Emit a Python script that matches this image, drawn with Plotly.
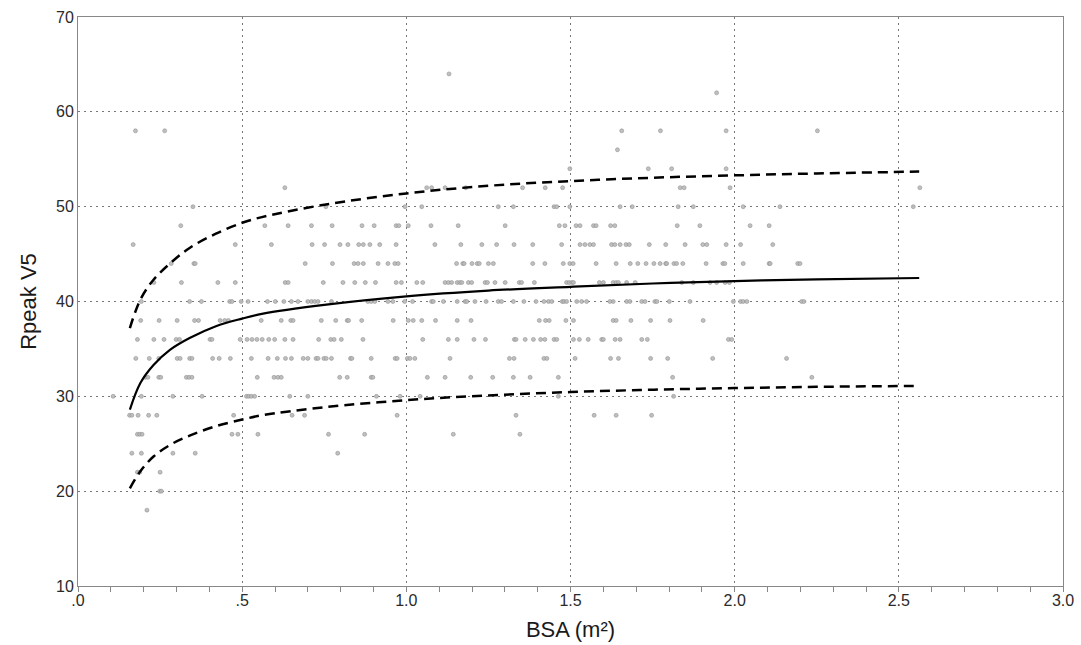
import plotly.graph_objects as go

# ---- scatter data: BSA values per Rpeak V5 level ----
r64 = [1.13]
r62 = [1.945]
r58 = [0.175, 0.264, 1.656, 1.774, 1.974, 2.252]
r56 = [1.643]
r54 = [1.498, 1.737, 1.808, 1.974]
r52 = [0.63, 1.062, 1.077, 1.118, 1.181, 1.354, 1.423, 1.476, 1.834, 1.846, 1.986, 2.564]
r50 = [0.35, 0.755, 0.996, 1.047, 1.28, 1.326, 1.45, 1.458, 1.498, 1.651, 1.688, 1.828,
       1.874, 2.026, 2.138, 2.544]
r48 = [0.313, 0.569, 0.64, 0.711, 0.774, 0.865, 0.902, 0.969, 0.977, 1.006, 1.075, 1.158,
       1.301, 1.466, 1.483, 1.517, 1.529, 1.570, 1.578, 1.622, 1.635, 1.825, 1.894, 2.047, 2.105]
r46 = [0.168, 0.479, 0.589, 0.713, 0.751, 0.798, 0.822, 0.855, 0.869, 0.889, 0.919, 0.969,
       1.087, 1.166, 1.230, 1.275, 1.328, 1.385, 1.473, 1.529, 1.544, 1.559, 1.570, 1.625,
       1.635, 1.651, 1.669, 1.679, 1.740, 1.790, 1.849, 1.903, 1.915, 1.974, 2.018, 2.116]
r44 = [0.284, 0.353, 0.357, 0.692, 0.775, 0.841, 0.853, 0.869, 0.914, 0.944, 0.965, 0.975,
       1.153, 1.172, 1.176, 1.2, 1.216, 1.222, 1.25, 1.265, 1.385, 1.422, 1.478, 1.498, 1.508,
       1.578, 1.639, 1.682, 1.705, 1.73, 1.754, 1.773, 1.790, 1.793, 1.815, 1.823, 1.842,
       1.913, 1.964, 1.970, 2.026, 2.105, 2.108, 2.192, 2.199]
r42 = [0.231, 0.315, 0.426, 0.479, 0.631, 0.640, 0.747, 0.807, 0.843, 0.875, 0.906, 0.969,
       0.985, 1.032, 1.050, 1.118, 1.128, 1.138, 1.155, 1.163, 1.169, 1.189, 1.199, 1.240,
       1.247, 1.270, 1.301, 1.344, 1.351, 1.390, 1.488, 1.496, 1.504, 1.509, 1.588, 1.600,
       1.630, 1.639, 1.646, 1.671, 1.697, 1.839, 1.874, 1.925, 1.945, 1.971, 1.984]
r40 = [0.193, 0.340, 0.376, 0.462, 0.469, 0.497, 0.518, 0.577, 0.601, 0.627, 0.650, 0.670,
       0.700, 0.711, 0.721, 0.731, 0.772, 0.883, 0.893, 0.904, 0.944, 0.959, 0.995, 1.019,
       1.077, 1.082, 1.113, 1.155, 1.179, 1.184, 1.209, 1.243, 1.280, 1.290, 1.326, 1.358,
       1.395, 1.419, 1.433, 1.443, 1.475, 1.480, 1.488, 1.519, 1.534, 1.549, 1.620, 1.630,
       1.671, 1.681, 1.717, 1.727, 1.757, 1.763, 1.801, 1.864, 1.996, 2.018, 2.026, 2.037,
       2.204, 2.211]
r38 = [0.191, 0.247, 0.302, 0.355, 0.367, 0.433, 0.447, 0.458, 0.558, 0.619, 0.648, 0.655,
       0.741, 0.785, 0.820, 0.824, 0.864, 0.960, 1.006, 1.021, 1.047, 1.089, 1.155, 1.197,
       1.405, 1.424, 1.435, 1.486, 1.509, 1.630, 1.639, 1.684, 1.744, 1.803, 1.904]
r36 = [0.181, 0.231, 0.262, 0.299, 0.309, 0.402, 0.408, 0.494, 0.515, 0.530, 0.545, 0.561,
       0.581, 0.599, 0.630, 0.655, 0.733, 0.770, 0.780, 0.802, 0.868, 1.050, 1.128, 1.155,
       1.206, 1.241, 1.329, 1.334, 1.362, 1.387, 1.409, 1.422, 1.450, 1.458, 1.509, 1.527,
       1.554, 1.595, 1.600, 1.636, 1.651, 1.717, 1.734, 1.981, 1.991]
r34 = [0.176, 0.217, 0.246, 0.302, 0.311, 0.340, 0.347, 0.410, 0.430, 0.464, 0.528, 0.579,
       0.607, 0.632, 0.650, 0.686, 0.700, 0.725, 0.731, 0.749, 0.756, 0.772, 0.830, 0.834,
       0.893, 0.966, 0.972, 1.003, 1.011, 1.026, 1.133, 1.314, 1.328, 1.419, 1.428, 1.514,
       1.622, 1.646, 1.744, 1.796, 1.933, 2.158]
r32 = [0.205, 0.213, 0.246, 0.252, 0.330, 0.338, 0.347, 0.546, 0.597, 0.609, 0.619, 0.797,
       0.820, 0.893, 0.898, 1.064, 1.118, 1.196, 1.263, 1.326, 1.377, 1.463, 1.811, 2.235]
r30 = [0.107, 0.193, 0.289, 0.378, 0.513, 0.520, 0.528, 0.538, 0.645, 0.700, 0.909, 0.981,
       1.042, 1.463, 1.814]
r28 = [0.157, 0.164, 0.183, 0.215, 0.240, 0.474, 0.652, 0.690, 0.972, 1.334, 1.572, 1.639, 1.747]
r26 = [0.181, 0.188, 0.195, 0.469, 0.487, 0.548, 0.763, 0.873, 1.143, 1.346]
r24 = [0.164, 0.193, 0.289, 0.357, 0.791]
r22 = [0.181, 0.188, 0.250]
r20 = [0.249, 0.254]
r18 = [0.210]

rows = {64: r64, 62: r62, 58: r58, 56: r56, 54: r54, 52: r52, 50: r50, 48: r48, 46: r46,
        44: r44, 42: r42, 40: r40, 38: r38, 36: r36, 34: r34, 32: r32, 30: r30, 28: r28,
        26: r26, 24: r24, 22: r22, 20: r20, 18: r18}

# ---- fitted curve and bounds ----
fit_x = [0.158, 0.19, 0.23, 0.28, 0.34, 0.42, 0.5, 0.56, 0.75, 1.0, 1.25, 1.5, 1.75, 2.0, 2.25, 2.562]
fit_mid = [28.6, 31.4, 33.3, 34.9, 36.15, 37.4, 38.2, 38.7, 39.65, 40.55, 41.15, 41.55, 41.9, 42.15, 42.33, 42.48]
fit_up = [37.2, 40.2, 42.3, 44.0, 45.65, 47.15, 48.3, 48.9, 50.2, 51.4, 52.2, 52.7, 53.05, 53.3, 53.5, 53.7]
fit_lo = [20.3, 22.1, 23.65, 24.87, 25.85, 26.85, 27.55, 28.0, 28.85, 29.6, 30.1, 30.45, 30.7, 30.87, 31.0, 31.1]

x_tickvals = [0, 0.5, 1.0, 1.5, 2.0, 2.5, 3.0]
x_ticktext = [".0", ".5", "1.0", "1.5", "2.0", "2.5", "3.0"]
y_tickvals = [10, 20, 30, 40, 50, 60, 70]

px_, py_ = [], []
for lvl, xs in rows.items():
    px_ += xs
    py_ += [lvl] * len(xs)

fig = go.Figure()
fig.add_trace(go.Scatter(x=px_, y=py_, mode="markers",
                         marker=dict(size=4, color="rgba(185,185,185,0.9)",
                                     line=dict(width=0.6, color="rgba(140,140,140,0.9)")),
                         showlegend=False, hoverinfo="skip"))
line_up = dict(color="black", width=2.5, dash="10px,6px")
fig.add_trace(go.Scatter(x=fit_x, y=fit_up, mode="lines", line_shape="spline",
                         line=dict(line_up, smoothing=1.0), showlegend=False))
fig.add_trace(go.Scatter(x=fit_x, y=fit_lo, mode="lines", line_shape="spline",
                         line=dict(line_up, smoothing=1.0), showlegend=False))
fig.add_trace(go.Scatter(x=fit_x, y=fit_mid, mode="lines", line_shape="spline",
                         line=dict(color="black", width=2.2, smoothing=1.0), showlegend=False))

fig.update_layout(
    width=1081, height=645,
    margin=dict(l=78, r=18, t=17, b=59),
    paper_bgcolor="white", plot_bgcolor="white",
    font=dict(family="Liberation Sans, Arial, sans-serif", size=16, color="#2a2a2a"),
    xaxis=dict(range=[0, 3.0], tickvals=x_tickvals, ticktext=x_ticktext, automargin=False,
               showgrid=True, gridcolor="#777", griddash="2px,4px", gridwidth=1,
               showline=True, linecolor="#888", linewidth=1, mirror=True,
               zeroline=False, ticks="",
               minor=dict(dtick=0.1, ticks="outside", ticklen=5, tickcolor="#888", showgrid=False),
               title=dict(text="BSA (m²)", font=dict(size=22, color="#1a1a1a"), standoff=13)),
    yaxis=dict(range=[10, 70], tickvals=y_tickvals, automargin=False,
               showgrid=True, gridcolor="#777", griddash="2px,4px", gridwidth=1,
               showline=True, linecolor="#888", linewidth=1, mirror=True,
               zeroline=False, ticks="",
               title=dict(text="Rpeak V5", font=dict(size=22, color="#1a1a1a"), standoff=13)),
)

fig.write_html("out.html")
